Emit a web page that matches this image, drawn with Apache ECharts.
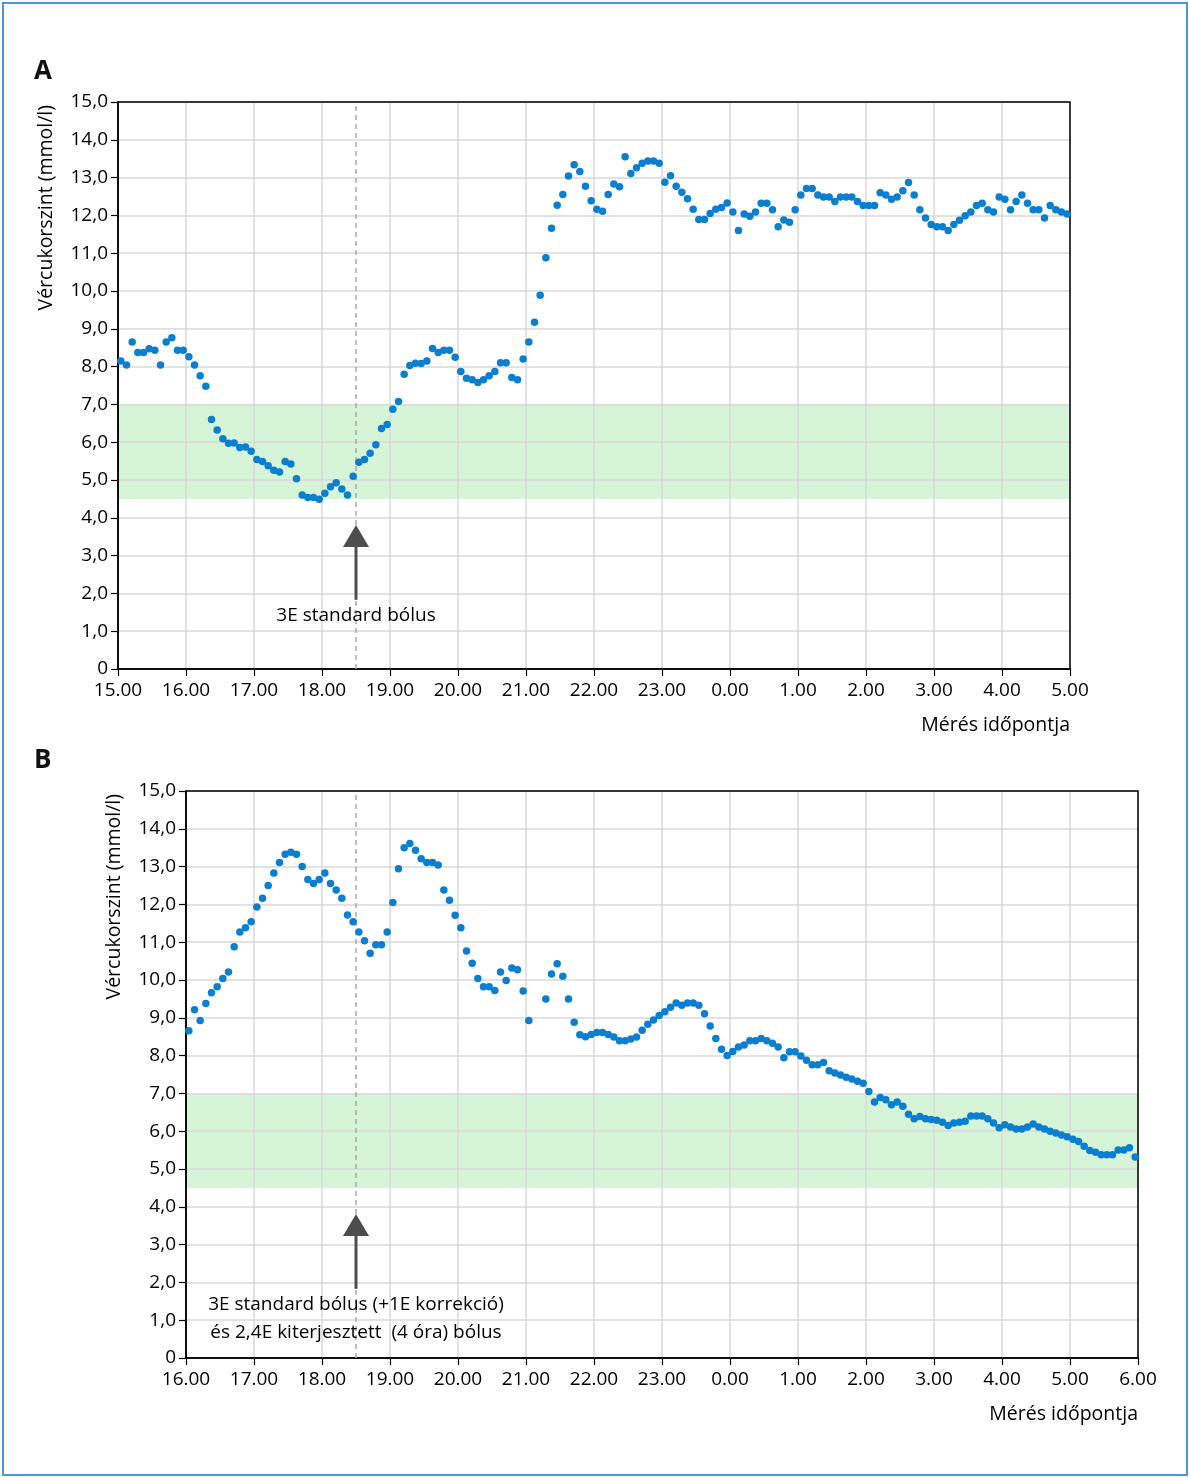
<!DOCTYPE html>
<html>
<head>
<meta charset="utf-8">
<script src="https://cdn.jsdelivr.net/npm/echarts@6/dist/echarts.min.js"></script>
<style>
  html, body { margin: 0; padding: 0; background: #fff; }
  #chart { width: 1190px; height: 1478px; }
</style>
</head>
<body>
<div id="chart"></div>
<script>
// ---- Data ----
// Readings every 5 minutes starting shortly after the first hour on each axis
const startHourA = 15;
const startHourB = 16;
const sampleStepMin = 5;
const firstOffsetMin = 2.5;
const spanMin = 840;               // 14 hours shown on each x-axis
const bolusMin = [210, 150];       // 18.30 on panel A / panel B
const targetRange = [4.5, 7.0];
const yTickLabels = ['0','1,0','2,0','3,0','4,0','5,0','6,0','7,0','8,0','9,0','10,0','11,0','12,0','13,0','14,0','15,0'];

const valuesA = [
  8.15, 8.04, 8.65, 8.37, 8.37, 8.47, 8.43, 8.04, 8.65, 8.76,
  8.43, 8.43, 8.26, 8.04, 7.76, 7.48, 6.60, 6.32, 6.09, 5.97,
  5.98, 5.86, 5.87, 5.76, 5.54, 5.49, 5.38, 5.26, 5.21, 5.49,
  5.42, 5.03, 4.60, 4.54, 4.54, 4.49, 4.65, 4.82, 4.93, 4.76,
  4.60, 5.10, 5.47, 5.54, 5.71, 5.93, 6.36, 6.47, 6.87, 7.08,
  7.80, 8.03, 8.09, 8.08, 8.15, 8.48, 8.37, 8.43, 8.43, 8.25,
  7.87, 7.69, 7.65, 7.58, 7.65, 7.76, 7.87, 8.10, 8.10, 7.71,
  7.65, 8.20, 8.65, 9.17, 9.89, 10.88, 11.66, 12.27, 12.55, 13.04,
  13.34, 13.16, 12.77, 12.39, 12.16, 12.11, 12.55, 12.83, 12.76, 13.55,
  13.11, 13.26, 13.38, 13.44, 13.44, 13.38, 12.88, 13.05, 12.77, 12.61,
  12.44, 12.16, 11.89, 11.89, 12.05, 12.16, 12.21, 12.33, 12.09, 11.60,
  12.04, 11.98, 12.09, 12.32, 12.32, 12.15, 11.70, 11.88, 11.82, 12.15,
  12.54, 12.71, 12.71, 12.54, 12.49, 12.49, 12.37, 12.49, 12.49, 12.49,
  12.37, 12.26, 12.26, 12.26, 12.60, 12.54, 12.43, 12.49, 12.65, 12.87,
  12.54, 12.15, 11.93, 11.76, 11.70, 11.70, 11.60, 11.76, 11.87, 11.99,
  12.09, 12.26, 12.32, 12.15, 12.09, 12.49, 12.43, 12.15, 12.37, 12.54,
  12.32, 12.15, 12.15, 11.93, 12.26, 12.15, 12.09, 12.04
];

const valuesB = [
  8.66, 9.21, 8.93, 9.38, 9.66, 9.82, 10.04, 10.21, 10.88, 11.27,
  11.38, 11.54, 11.93, 12.16, 12.50, 12.83, 13.11, 13.33, 13.38, 13.33,
  13.00, 12.66, 12.55, 12.66, 12.83, 12.55, 12.38, 12.16, 11.72, 11.54,
  11.27, 11.04, 10.71, 10.93, 10.93, 11.27, 12.05, 12.94, 13.50, 13.61,
  13.43, 13.21, 13.11, 13.11, 13.04, 12.38, 12.11, 11.71, 11.38, 10.77,
  10.44, 10.04, 9.82, 9.82, 9.72, 10.21, 9.99, 10.32, 10.27, 9.71,
  8.93, null, null, 9.50, 10.16, 10.43, 10.10, 9.50, 8.88, 8.55,
  8.50, 8.56, 8.61, 8.61, 8.56, 8.49, 8.39, 8.39, 8.44, 8.49,
  8.67, 8.83, 8.94, 9.06, 9.16, 9.28, 9.39, 9.33, 9.39, 9.39,
  9.33, 9.11, 8.78, 8.45, 8.17, 8.00, 8.11, 8.23, 8.28, 8.39,
  8.39, 8.45, 8.39, 8.33, 8.23, 7.94, 8.10, 8.10, 7.99, 7.88,
  7.76, 7.76, 7.82, 7.60, 7.54, 7.49, 7.43, 7.38, 7.32, 7.27,
  7.05, 6.77, 6.89, 6.83, 6.70, 6.77, 6.66, 6.45, 6.33, 6.39,
  6.33, 6.31, 6.29, 6.24, 6.15, 6.22, 6.24, 6.26, 6.40, 6.40,
  6.40, 6.33, 6.22, 6.09, 6.17, 6.11, 6.06, 6.06, 6.11, 6.19,
  6.11, 6.06, 6.00, 5.95, 5.90, 5.85, 5.79, 5.73, 5.60, 5.49,
  5.44, 5.38, 5.38, 5.38, 5.50, 5.50, 5.56, 5.32
];

const annotationA = ['3E standard bólus'];
const annotationB = ['3E standard bólus (+1E korrekció)', 'és 2,4E kiterjesztett  (4 óra) bólus'];

// ---- Styling ----
const FONT = '"Open Sans", "Noto Sans", sans-serif';
const TEXT = '#000';
const DOT = '#0b7fcf';

function toPoints(vals) {
  const out = [];
  vals.forEach((v, i) => { if (v != null) out.push([firstOffsetMin + i * sampleStepMin, v]); });
  return out;
}

function xAxisFor(gridIndex, startHour) {
  return {
    type: 'value', gridIndex, min: 0, max: spanMin, interval: 60, z: 2,
    axisLine: { show: true, onZero: false, lineStyle: { color: '#000', width: 1.5 } },
    axisTick: { show: true, length: 7, lineStyle: { color: '#000', width: 1.2 } },
    axisLabel: {
      margin: 12, fontSize: 19, color: TEXT, fontFamily: FONT,
      formatter: v => ((startHour + v / 60) % 24) + '.00'
    },
    splitLine: { show: true, lineStyle: { color: '#d9d9d9', width: 1.5 } }
  };
}
function yAxisFor(gridIndex) {
  return {
    type: 'value', gridIndex, min: 0, max: 15, interval: 1, z: 2,
    axisLine: { show: true, lineStyle: { color: '#000', width: 1.5 } },
    axisTick: { show: true, length: 7, lineStyle: { color: '#000', width: 1.2 } },
    axisLabel: {
      margin: 10, fontSize: 19, color: TEXT, fontFamily: FONT,
      formatter: v => yTickLabels[Math.round(v)]
    },
    splitLine: { show: true, lineStyle: { color: '#d9d9d9', width: 1.5 } }
  };
}
function bandSeries(idx) {
  return {
    type: 'line', xAxisIndex: idx, yAxisIndex: idx, data: [], z: 1, silent: true,
    markArea: {
      silent: true,
      itemStyle: { color: '#d6f5d8' },
      data: [[{ yAxis: targetRange[0] }, { yAxis: targetRange[1] }]]
    },
    markLine: {
      silent: true, symbol: 'none', label: { show: false },
      lineStyle: { color: '#aaaaaa', type: [5, 4], width: 1.5 },
      data: [{ xAxis: bolusMin[idx] }]
    }
  };
}
function dotSeries(idx, vals) {
  return {
    type: 'scatter', xAxisIndex: idx, yAxisIndex: idx, z: 5,
    symbolSize: 7.5, itemStyle: { color: DOT, opacity: 1 },
    data: toPoints(vals)
  };
}

const chart = echarts.init(document.getElementById('chart'), null, { renderer: 'canvas' });
const grids = [
  { left: 118, top: 102, width: 952, height: 567 },
  { left: 186, top: 791, width: 952, height: 567 }
];
chart.setOption({
  backgroundColor: '#fff',
  animation: false,
  grid: grids.map(g => Object.assign({ show: true, borderColor: '#000', borderWidth: 1.5, backgroundColor: 'transparent', z: 3 }, g)),
  xAxis: [xAxisFor(0, startHourA), xAxisFor(1, startHourB)],
  yAxis: [yAxisFor(0), yAxisFor(1)],
  series: [bandSeries(0), dotSeries(0, valuesA), bandSeries(1), dotSeries(1, valuesB)]
});

// ---- Annotations (positioned through the chart's own scales) ----
function px(gi, x, y) { return chart.convertToPixel({ gridIndex: gi }, [x, y]); }
const graphics = [];
// outer frame
graphics.push({ type: 'rect', shape: { x: 3, y: 3, width: 1184, height: 1472 }, style: { fill: 'none', stroke: '#4b98d6', lineWidth: 2 }, z: 10 });

function arrow(gi, lines) {
  const x = bolusMin[gi];
  const tip = px(gi, x, 3.81);
  const headBase = px(gi, x, 3.23);
  const tail = px(gi, x, 1.83);
  graphics.push({ type: 'line', shape: { x1: tail[0], y1: tail[1], x2: headBase[0], y2: headBase[1] }, style: { stroke: '#4d4d4d', lineWidth: 3 }, z: 10 });
  graphics.push({ type: 'polygon', shape: { points: [[tip[0], tip[1]], [tip[0] - 13, headBase[1]], [tip[0] + 13, headBase[1]]] }, style: { fill: '#4d4d4d' }, z: 10 });
  lines.forEach((t, k) => {
    const p = px(gi, x, 1.40 - k * 0.715);
    graphics.push({ type: 'text', x: p[0], y: p[1], style: { text: t, fill: TEXT, font: '19px ' + FONT, textAlign: 'center', textVerticalAlign: 'middle' }, z: 10 });
  });
}
arrow(0, annotationA);
arrow(1, annotationB);

grids.forEach((g, gi) => {
  // panel letter
  graphics.push({ type: 'text', x: 34, y: g.top - 30, style: { text: gi === 0 ? 'A' : 'B', fill: '#111', font: 'bold 26px ' + FONT, textVerticalAlign: 'middle' }, z: 10 });
  // y-axis title (rotated)
  graphics.push({ type: 'text', x: g.left - 72, y: g.top + 3, rotation: Math.PI / 2, style: { text: 'Vércukorszint (mmol/l)', fill: TEXT, font: '19.5px ' + FONT, textAlign: 'right', textVerticalAlign: 'middle' }, z: 10 });
  // x-axis title
  graphics.push({ type: 'text', x: g.left + g.width, y: g.top + g.height + 56, style: { text: 'Mérés időpontja', fill: TEXT, font: '19.5px ' + FONT, textAlign: 'right', textVerticalAlign: 'middle' }, z: 10 });
});
chart.setOption({ graphic: graphics });
</script>
</body>
</html>
